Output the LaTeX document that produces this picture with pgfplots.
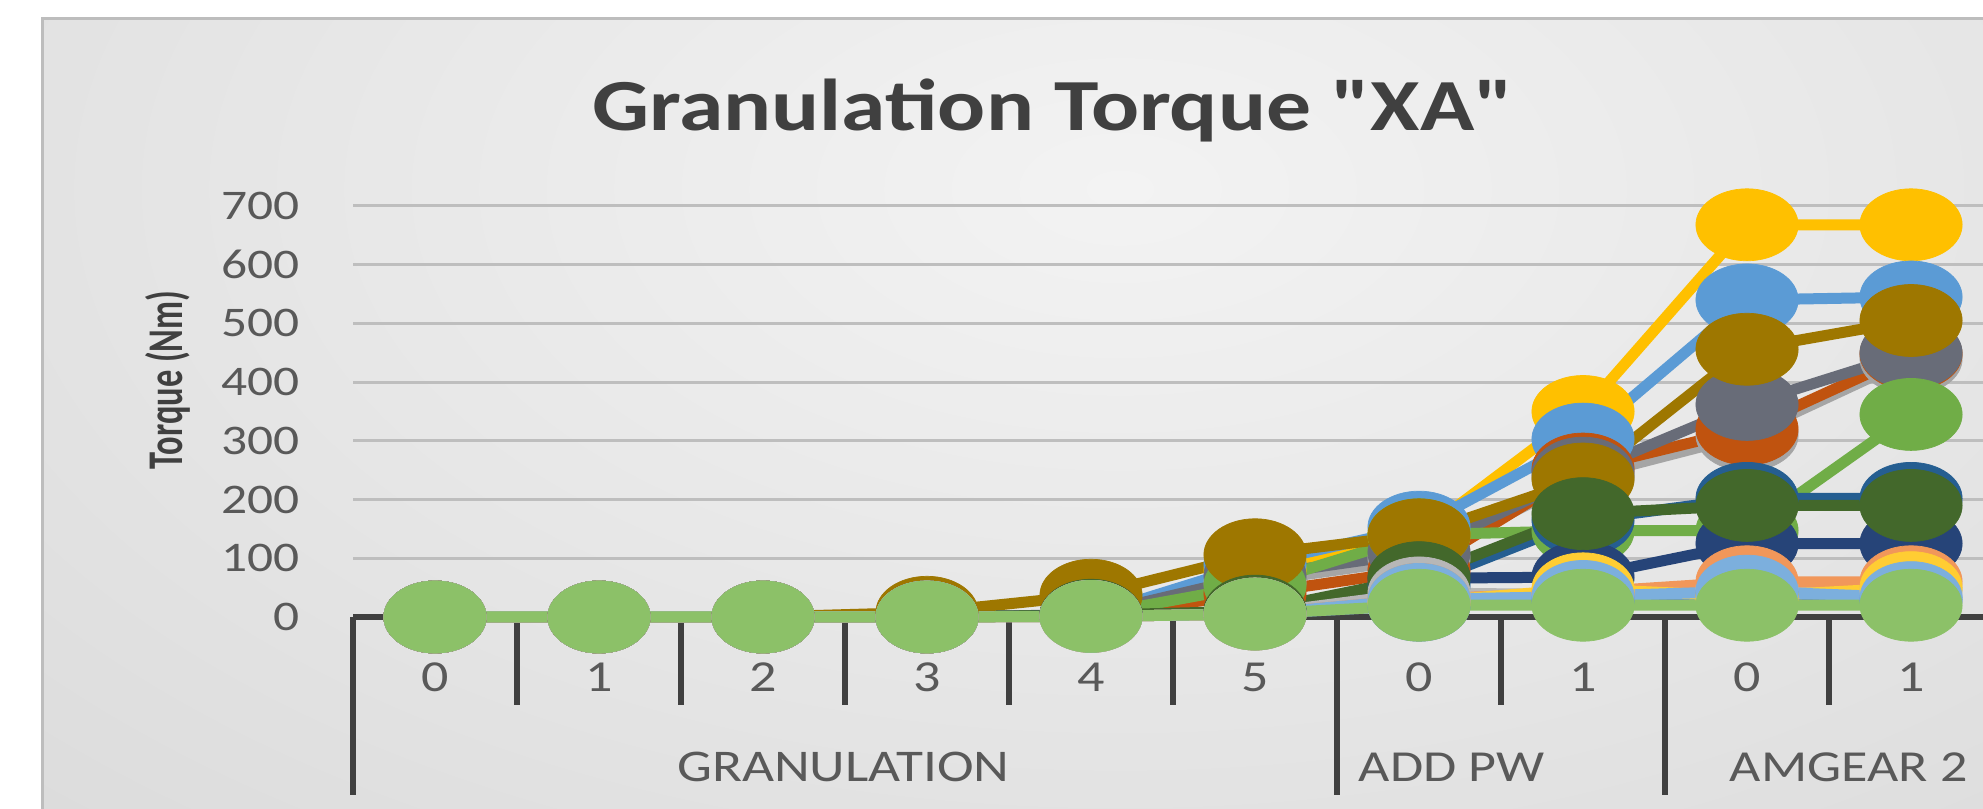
\documentclass[border=0pt]{standalone}
\usepackage{graphicx}
\usepackage{pgfplots}
\pgfplotsset{compat=1.18}
\usepackage{fontspec}
\setmainfont{Carlito}[FakeStretch=1.22]
\newfontfamily\plainfont{Carlito}
\newfontfamily\titlefont{Carlito}[FakeStretch=1.22]
\definecolor{bgin}{HTML}{F3F3F3}
\definecolor{bgout}{HTML}{CBCBCB}
\definecolor{panelc}{HTML}{BDBDBD}
\definecolor{gridc}{HTML}{BEBEBE}
\definecolor{axisc}{HTML}{404040}
\definecolor{tickc}{HTML}{595959}
\definecolor{titlec}{HTML}{404040}
\definecolor{cYel}{HTML}{FFC000}
\definecolor{cBlu}{HTML}{5B9BD5}
\definecolor{cRus}{HTML}{C0530F}
\definecolor{cGrA}{HTML}{A5A5A5}
\definecolor{cGrD}{HTML}{686C78}
\definecolor{cGrn}{HTML}{70AD47}
\definecolor{cBrn}{HTML}{9E7700}
\definecolor{cDBl}{HTML}{255E91}
\definecolor{cNav}{HTML}{264478}
\definecolor{cDGr}{HTML}{43682B}
\definecolor{cLGy}{HTML}{B7B7B7}
\definecolor{cLBl}{HTML}{7CAFDD}
\definecolor{cLNv}{HTML}{698ED0}
\definecolor{cPch}{HTML}{F1975A}
\definecolor{cLYe}{HTML}{FFCD33}
\definecolor{cLGn}{HTML}{8CC168}
\begin{document}
\begin{tikzpicture}
\fill[white] (0mm,0mm) rectangle (198.3mm,80.9mm);
\begin{scope}
\clip (4.2mm,0mm) rectangle (198.3mm,79.0mm);
\fill[bgout] (4.2mm,0mm) rectangle (198.3mm,79.0mm);
\shade[inner color=bgin, outer color=bgout] (112mm,62mm) ellipse (270mm and 150mm);
\end{scope}
\draw[panelc, line width=0.3mm] (4.2mm,0mm) -- (4.2mm,79.0mm) -- (198.3mm,79.0mm);
\node[font=\titlefont\bfseries\fontsize{20.9}{25}\selectfont, text=titlec] at (105.3mm,69.9mm) {Granulation Torque "XA"};
\node[text=titlec, inner sep=0pt] at (16.8mm,42.9mm) {\rotatebox{90}{\scalebox{1}[1.45]{\plainfont\bfseries\fontsize{9.8}{11}\selectfont Torque (Nm)}}};
\begin{axis}[
  at={(35.3mm,19.2mm)}, anchor=south west,
  scale only axis, width=163.1mm, height=41.1mm,
  xmin=-0.5, xmax=9.445, ymin=0, ymax=700,
  clip=false,
  axis line style={draw=none},
  ytick={0,100,...,700},
  xtick={0,...,9},
  xticklabels={0,1,2,3,4,5,0,1,0,1},
  major tick length=0pt,
  tick style={draw=none},
  ymajorgrids,
  grid style={color=gridc, line width=0.3mm},
  /pgf/number format/assume math mode=true,
  ticklabel style={text=tickc},
  yticklabel style={font=\fontsize{12}{14}\selectfont, anchor=east, inner sep=0pt, xshift=-5.3mm},
  xticklabel style={font=\fontsize{12.6}{14}\selectfont, anchor=center, inner sep=0pt, yshift=-6mm},
  every axis plot/.append style={line width=1.1mm, mark=*, mark size=3.6mm, mark options={xscale=1.42, line width=0.2pt, solid}},
]
\draw[axisc, line width=0.6mm] (axis cs:-0.5,0) -- (axis cs:9.445,0);
\draw[axisc, line width=0.6mm] (axis cs:-0.5,0) -- ([yshift=-17.8mm]axis cs:-0.5,0);
\draw[axisc, line width=0.6mm] (axis cs:5.5,0) -- ([yshift=-17.8mm]axis cs:5.5,0);
\draw[axisc, line width=0.6mm] (axis cs:7.5,0) -- ([yshift=-17.8mm]axis cs:7.5,0);
\draw[axisc, line width=0.6mm] (axis cs:0.5,0) -- ([yshift=-8.8mm]axis cs:0.5,0);
\draw[axisc, line width=0.6mm] (axis cs:1.5,0) -- ([yshift=-8.8mm]axis cs:1.5,0);
\draw[axisc, line width=0.6mm] (axis cs:2.5,0) -- ([yshift=-8.8mm]axis cs:2.5,0);
\draw[axisc, line width=0.6mm] (axis cs:3.5,0) -- ([yshift=-8.8mm]axis cs:3.5,0);
\draw[axisc, line width=0.6mm] (axis cs:4.5,0) -- ([yshift=-8.8mm]axis cs:4.5,0);
\draw[axisc, line width=0.6mm] (axis cs:6.5,0) -- ([yshift=-8.8mm]axis cs:6.5,0);
\draw[axisc, line width=0.6mm] (axis cs:8.5,0) -- ([yshift=-8.8mm]axis cs:8.5,0);
\node[font=\fontsize{12.9}{15}\selectfont, text=tickc] at ([yshift=-15mm]axis cs:2.49,0) {GRANULATION};
\node[font=\fontsize{12.6}{15}\selectfont, text=tickc] at ([yshift=-15mm]axis cs:6.2,0) {ADD PW};
\node[font=\fontsize{12.6}{15}\selectfont, text=tickc] at ([yshift=-15mm]axis cs:8.62,0) {AMGEAR 2};
% series (x: 0-5 GRANULATION, 6-7 ADD PW, 8-9 AMGEAR 2)
\addplot[color=cYel] coordinates {(0,0) (1,0) (2,0) (3,0) (4,3) (5,80) (6,140) (7,350) (8,668) (9,668)};
\addplot[color=cBlu] coordinates {(0,0) (1,0) (2,0) (3,0) (4,3) (5,90) (6,153) (7,303) (8,540) (9,545)};
\addplot[color=cGrA] coordinates {(0,0) (1,0) (2,0) (3,0) (4,3) (5,60) (6,100) (7,238) (8,310) (9,440)};
\addplot[color=cRus] coordinates {(0,0) (1,0) (2,0) (3,0) (4,2) (5,40) (6,80) (7,252) (8,320) (9,448)};
\addplot[color=cGrD] coordinates {(0,0) (1,0) (2,0) (3,0) (4,4) (5,70) (6,110) (7,245) (8,362) (9,450)};
\addplot[color=cGrn] coordinates {(0,0) (1,0) (2,0) (3,0) (4,3) (5,54) (6,140) (7,147) (8,147) (9,345)};
\addplot[color=cBrn] coordinates {(0,0) (1,0) (2,0) (3,8) (4,37) (5,106) (6,140) (7,235) (8,456) (9,505)};
\addplot[color=cDBl] coordinates {(0,0) (1,0) (2,0) (3,0) (4,2) (5,8) (6,55) (7,165) (8,202) (9,202)};
\addplot[color=cNav] coordinates {(0,0) (1,0) (2,0) (3,0) (4,2) (5,6) (6,66) (7,68) (8,125) (9,125)};
\addplot[color=cDGr] coordinates {(0,0) (1,0) (2,0) (3,0) (4,3) (5,10) (6,67) (7,176) (8,190) (9,190)};
\addplot[color=cLGy] coordinates {(0,0) (1,0) (2,0) (3,0) (4,1) (5,5) (6,41) (7,38) (8,50) (9,45)};
\addplot[color=cLNv] coordinates {(0,0) (1,0) (2,0) (3,0) (4,1) (5,5) (6,20) (7,30) (8,38) (9,30)};
\addplot[color=cPch] coordinates {(0,0) (1,0) (2,0) (3,0) (4,1) (5,5) (6,30) (7,42) (8,60) (9,60)};
\addplot[color=cLYe] coordinates {(0,0) (1,0) (2,0) (3,0) (4,1) (5,5) (6,25) (7,48) (8,35) (9,50)};
\addplot[color=cLBl] coordinates {(0,0) (1,0) (2,0) (3,0) (4,1) (5,5) (6,30) (7,35) (8,44) (9,33)};
\addplot[color=cLGn] coordinates {(0,0) (1,0) (2,0) (3,0) (4,1) (5,5) (6,20) (7,20) (8,20) (9,20)};
\end{axis}
\pgfresetboundingbox
\path[use as bounding box] (0mm,0mm) rectangle (198.3mm,80.9mm);
\end{tikzpicture}
\end{document}
